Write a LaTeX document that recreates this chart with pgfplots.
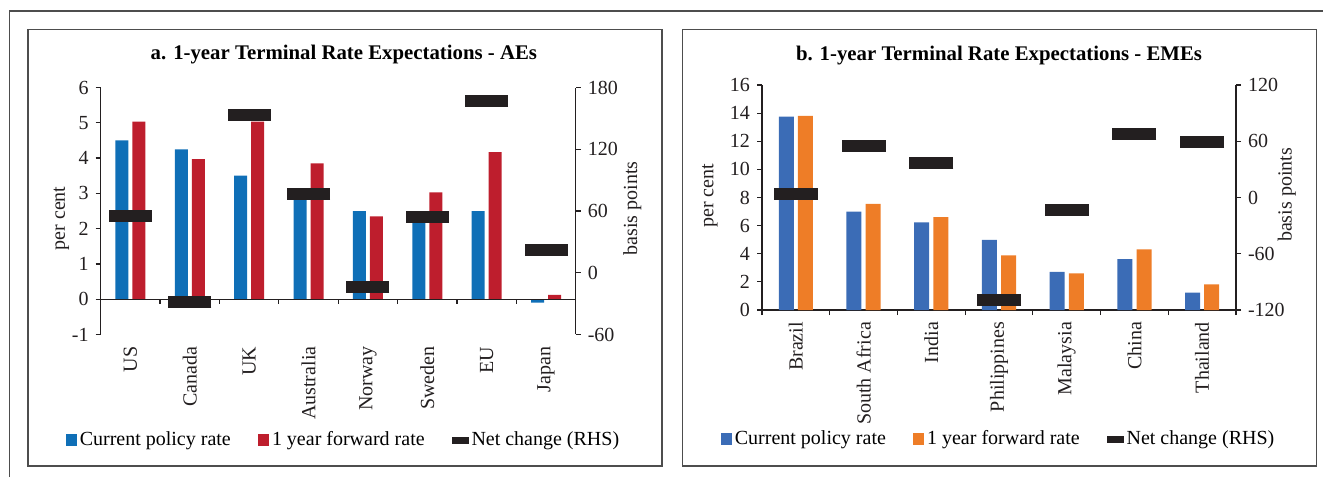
\documentclass[border=0pt]{standalone}
\usepackage{fontspec}
\setmainfont{Liberation Serif}
\usepackage{pgfplots}
\pgfplotsset{compat=1.18}

\definecolor{aeblue}{HTML}{0F6FB7}
\definecolor{aered}{HTML}{BE1E2D}
\definecolor{emblue}{HTML}{3B6CB6}
\definecolor{emorange}{HTML}{EE7D27}
\definecolor{netblack}{HTML}{231F20}
\definecolor{framegray}{HTML}{4D4D4D}

\pgfplotsset{
  panel/.style={
    scale only axis,
    font=\fontsize{10}{12}\selectfont,
    tick label style={font=\fontsize{10}{12}\selectfont,
      /pgf/number format/assume math mode=true, text=netblack},
    label style={font=\fontsize{10}{12}\selectfont, text=netblack},
    axis line style={netblack, line width=0.6pt},
    tick style={netblack, line width=0.6pt},
    tick align=outside,
    major tick length=2.5pt,
    minor tick length=2.5pt,
    enlargelimits=false,
    clip=false,
    every axis title shift=0pt,
  },
  barimg/.style={legend image code/.code={\fill[##1] (0pt,-2.8pt) rectangle (5.6pt,2.8pt);}},
  netimg/.style={legend image code/.code={\fill[netblack] (0pt,-1.5pt) rectangle (8pt,1.5pt);}},
  leg/.style={legend style={draw=none, fill=none, legend columns=3,
      font=\fontsize{10}{12}\selectfont, anchor=center,
      nodes={inner xsep=1.5pt},
      /tikz/every even column/.append style={column sep=12pt}},
    legend cell align=left},
}

\begin{document}
\begin{tikzpicture}
\path[use as bounding box] (0,0) rectangle (661.5pt,238.5pt);
\draw[framegray, line width=0.6pt] (4.7pt,0pt) -- (4.7pt,233pt) -- (661.5pt,233pt);
\draw[framegray, line width=0.7pt] (14pt,5.5pt) rectangle (331pt,223.75pt);
\draw[framegray, line width=0.7pt] (341.3pt,5.5pt) rectangle (658.3pt,223.75pt);

% ---------- panel a ----------
\begin{axis}[panel, at={(50.35pt,71.25pt)}, anchor=south west,
  width=237.5pt, height=123.5pt,
  xmin=-0.5, xmax=7.5, ymin=-1, ymax=6, ytick={-1,0,...,6},
  axis y line*=left, axis x line*=bottom,
  x axis line style={draw=none}, major x tick style={draw=none},
  xtick={0,...,7},
  xticklabels={US,Canada,UK,Australia,Norway,Sweden,EU,Japan},
  x tick label style={rotate=90, anchor=east},
  ylabel={per cent}, ylabel style={at={(-0.083,0.47)}, anchor=center},
  title={\fontsize{10.4}{12}\selectfont\textbf{a. 1-year Terminal Rate Expectations - AEs}},
  title style={at={(0.512,1.132)}, anchor=center},
  leg, legend style={at={(0.512,-0.427)}}]
\addplot[ybar, bar width=6.5pt, bar shift=-4.25pt, fill=aeblue, draw=none, barimg]
  coordinates {(0,4.5) (1,4.25) (2,3.5) (3,3.1) (4,2.5) (5,2.5) (6,2.5) (7,-0.1)};
\addlegendentry{Current policy rate}
\addplot[ybar, bar width=6.5pt, bar shift=4.25pt, fill=aered, draw=none, barimg]
  coordinates {(0,5.03) (1,3.97) (2,5.03) (3,3.85) (4,2.35) (5,3.03) (6,4.17) (7,0.12)};
\addlegendentry{1 year forward rate}
\addlegendimage{netimg}
\addlegendentry{Net change (RHS)}
\addplot[netblack, line width=0.6pt, no marks, forget plot]
  coordinates {(-0.5,0) (7.5,0)};
\addplot[ycomb, netblack, line width=0.6pt, no marks, forget plot]
  coordinates {(0.5,-0.14) (1.5,-0.14) (2.5,-0.14) (3.5,-0.14) (4.5,-0.14) (5.5,-0.14) (6.5,-0.14)};
\end{axis}

\begin{axis}[panel, at={(50.35pt,71.25pt)}, anchor=south west,
  width=237.5pt, height=123.5pt,
  xmin=-0.5, xmax=7.5, ymin=-60, ymax=180, ytick={-60,0,...,180},
  axis y line*=right, axis x line=none,
  ylabel={basis points}, ylabel style={at={(1.119,0.51)}, anchor=center}]
\addplot[only marks, mark=-, mark size=10.75pt,
  mark options={line width=6pt, draw=netblack}]
  coordinates {(0,55) (1,-28) (2,153) (3,77) (4,-14) (5,54) (6,167) (7,22)};
\end{axis}

% ---------- panel b ----------
\begin{axis}[panel, at={(381pt,83.5pt)}, anchor=south west,
  width=237pt, height=112.5pt,
  xmin=-0.5, xmax=6.5, ymin=0, ymax=16, ytick={0,2,...,16},
  axis y line*=left, axis x line*=bottom,
  major x tick style={draw=none},
  xtick={0,...,6}, minor xtick={-0.5,0.5,...,6.5},
  xticklabels={Brazil,South Africa,India,Philippines,Malaysia,China,Thailand},
  x tick label style={rotate=90, anchor=east},
  ylabel={per cent}, ylabel style={at={(-0.11,0.507)}, anchor=center},
  title={\fontsize{10.4}{12}\selectfont\textbf{b. 1-year Terminal Rate Expectations - EMEs}},
  title style={at={(0.5,1.133)}, anchor=center},
  leg, legend style={at={(0.5,-0.573)}}]
\addplot[ybar, bar width=7.5pt, bar shift=-4.8pt, fill=emblue, draw=none, barimg]
  coordinates {(0,13.75) (1,7.0) (2,6.24) (3,4.98) (4,2.72) (5,3.62) (6,1.23)};
\addlegendentry{Current policy rate}
\addplot[ybar, bar width=7.5pt, bar shift=4.8pt, fill=emorange, draw=none, barimg]
  coordinates {(0,13.8) (1,7.54) (2,6.61) (3,3.89) (4,2.6) (5,4.31) (6,1.83)};
\addlegendentry{1 year forward rate}
\addlegendimage{netimg}
\addlegendentry{Net change (RHS)}
\end{axis}

\begin{axis}[panel, at={(381pt,83.5pt)}, anchor=south west,
  width=237pt, height=112.5pt,
  xmin=-0.5, xmax=6.5, ymin=-120, ymax=120, ytick={-120,-60,...,120},
  axis y line*=right, axis x line=none,
  ylabel={basis points}, ylabel style={at={(1.107,0.511)}, anchor=center}]
\addplot[only marks, mark=-, mark size=11pt,
  mark options={line width=6pt, draw=netblack}]
  coordinates {(0,4) (1,55) (2,37) (3,-109) (4,-13) (5,68) (6,59)};
\end{axis}
\end{tikzpicture}
\end{document}
